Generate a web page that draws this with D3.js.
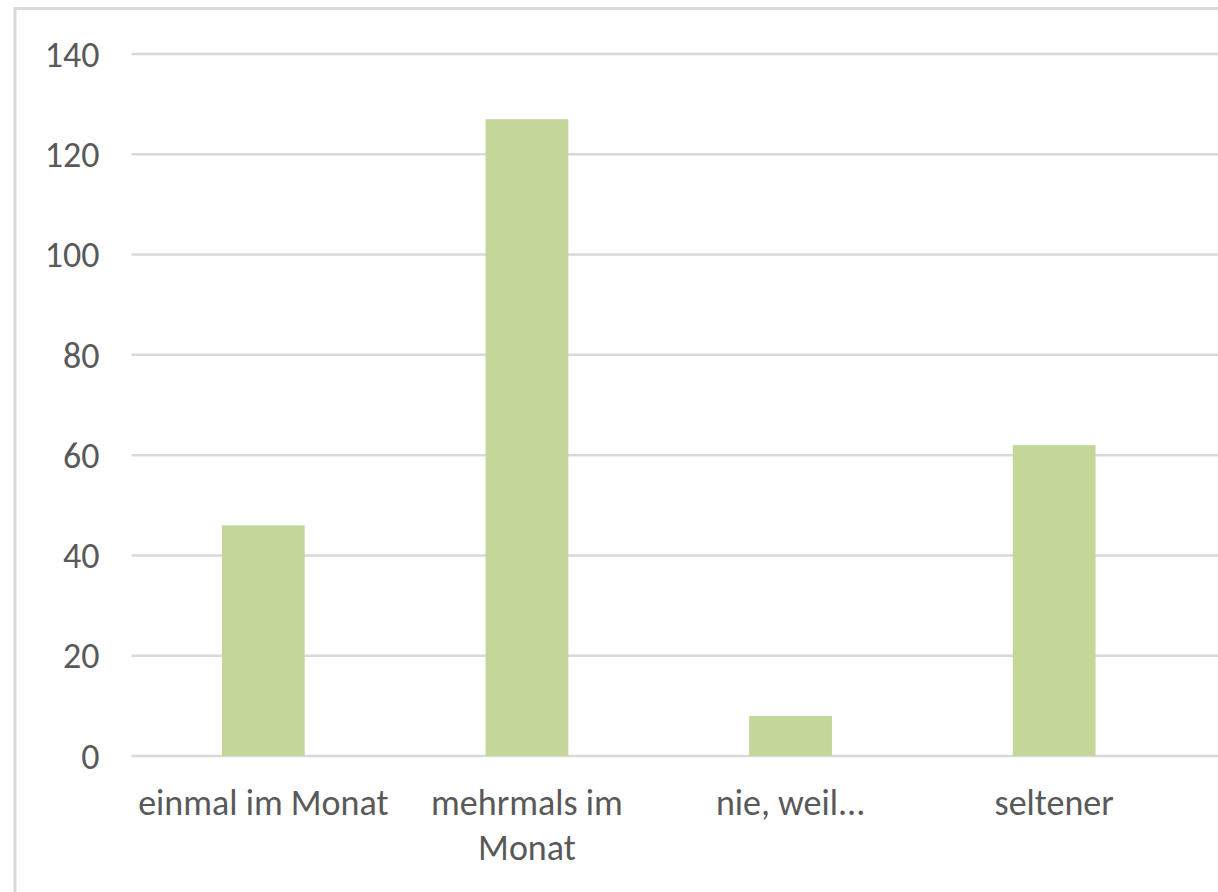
<!DOCTYPE html>
<html>
<head>
<meta charset="utf-8">
<script src="https://cdn.jsdelivr.net/npm/d3@7/dist/d3.min.js"></script>
<style>
  html, body { margin: 0; padding: 0; background: #fff; overflow: hidden; }
  svg { display: block; }
  text { font-family: Carlito, Calibri, Lato, "Open Sans", sans-serif; fill: #595959; }
</style>
</head>
<body>
<svg id="chart" width="1218" height="892"></svg>
<script>
// Survey answers: how often?
const categories = ["einmal im Monat", "mehrmals im Monat", "nie, weil...", "seltener"];
const labelLines = [["einmal im Monat"], ["mehrmals im", "Monat"], ["nie, weil..."], ["seltener"]];
const values = [46, 127, 8, 62];
const yTicks = [0, 20, 40, 60, 80, 100, 120, 140];

const W = 1218, H = 892;
const plot = { left: 131.5, right: 1186, top: 54, bottom: 756 };

const svg = d3.select("#chart");

// Chart-area frame (continues past the right and bottom edges)
svg.append("rect")
  .attr("x", 15).attr("y", 8.5)
  .attr("width", W + 100).attr("height", H + 100)
  .attr("fill", "#fff")
  .attr("stroke", "#d9d9d9").attr("stroke-width", 3);

const x = d3.scaleBand()
  .domain(categories)
  .range([plot.left, plot.right])
  .paddingInner(0.686)
  .paddingOuter(0.343);

const y = d3.scaleLinear()
  .domain([0, 140])
  .range([plot.bottom, plot.top]);

// Horizontal gridlines
svg.append("g")
  .selectAll("line")
  .data(yTicks)
  .join("line")
  .attr("x1", plot.left).attr("x2", W)
  .attr("y1", d => y(d)).attr("y2", d => y(d))
  .attr("stroke", "#d9d9d9").attr("stroke-width", 2.5);

// Bars
svg.append("g")
  .selectAll("rect")
  .data(values)
  .join("rect")
  .attr("x", (d, i) => x(categories[i]))
  .attr("width", x.bandwidth())
  .attr("y", d => y(d))
  .attr("height", d => y(0) - y(d))
  .attr("fill", "#c4d79b");

// Value axis labels
const yAxis = d3.axisLeft(y).tickValues(yTicks).tickSize(0).tickPadding(32);
const gy = svg.append("g").attr("transform", `translate(${plot.left},0)`).call(yAxis);
gy.select(".domain").remove();
gy.selectAll("text")
  .attr("font-size", 36)
  .attr("font-family", null)
  .attr("dy", "0.34em");

// Category labels (wrapped)
const gx = svg.append("g");
labelLines.forEach((lines, i) => {
  const cx = x(categories[i]) + x.bandwidth() / 2;
  const t = gx.append("text")
    .attr("x", cx).attr("y", 815)
    .attr("text-anchor", "middle")
    .attr("font-size", 36);
  lines.forEach((ln, j) => {
    t.append("tspan").attr("x", cx).attr("dy", j === 0 ? 0 : 45).text(ln);
  });
});
</script>
</body>
</html>
